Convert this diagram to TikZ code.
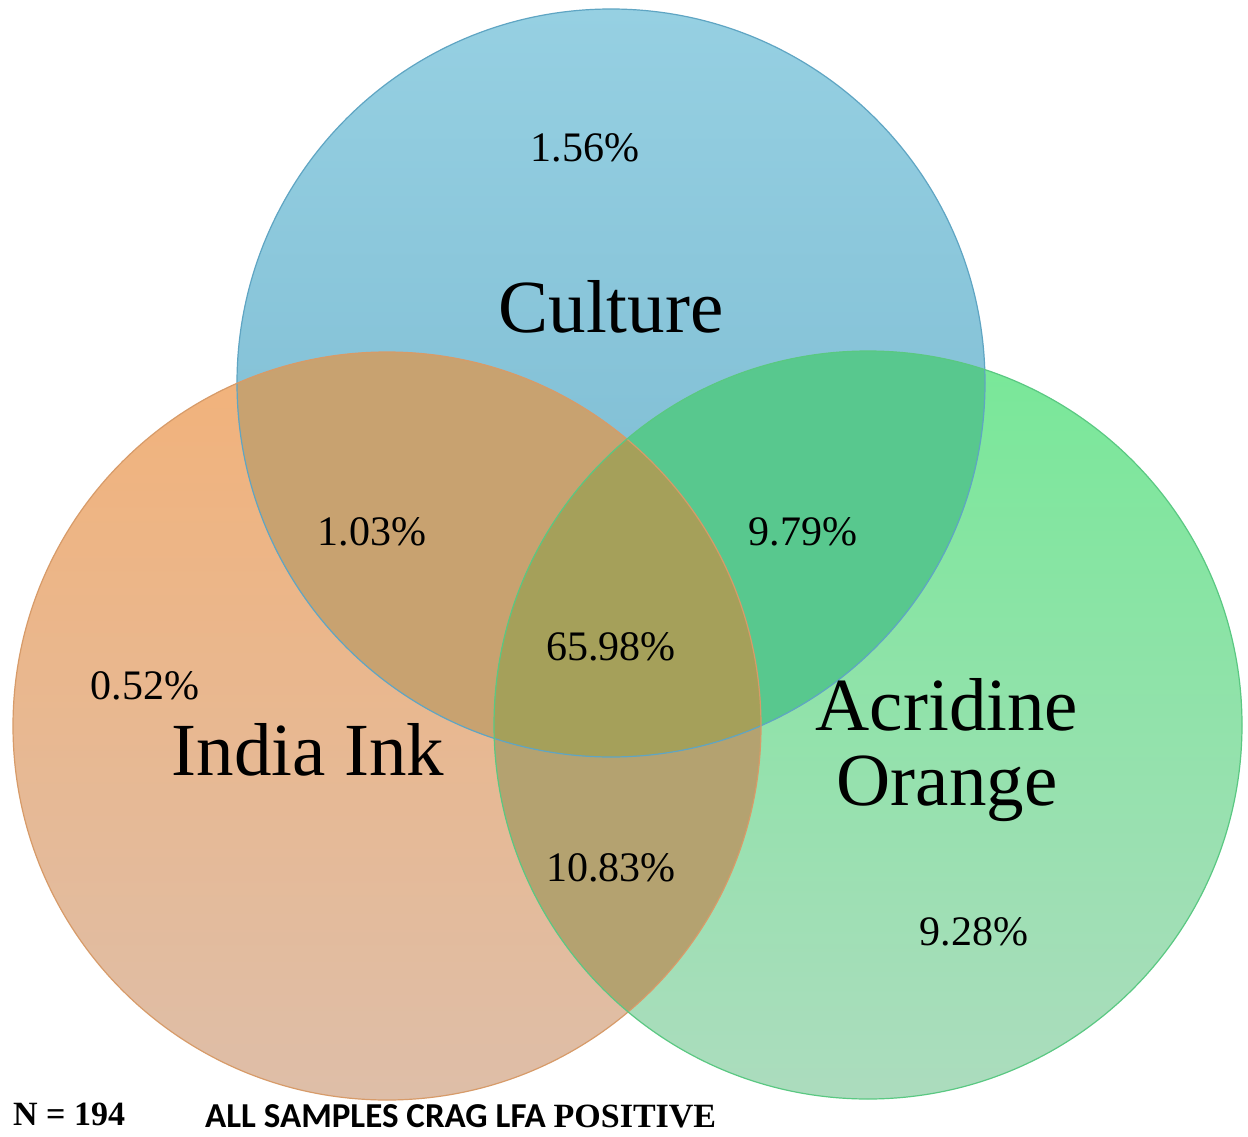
\documentclass[tikz,border=0pt]{standalone}
\usepackage{fontspec}
\setmainfont{Liberation Serif}[BoldFont={Liberation Serif Bold}]
\newfontfamily\carlito{Carlito}[BoldFont={Carlito Bold}]
\newfontfamily\timesbold{Liberation Serif Bold}
\begin{document}
\begin{tikzpicture}[x=1pt,y=-1pt,
  pct/.style={font=\fontsize{42}{42}\selectfont, text=black, inner sep=0pt},
  biglabel/.style={font=\fontsize{75}{75}\selectfont, text=black, inner sep=0pt, align=center}]
\definecolor{cultTop}{RGB}{150,208,226}
\definecolor{cultBot}{RGB}{118,182,206}
\definecolor{cultLine}{RGB}{95,165,195}
\definecolor{indTop}{RGB}{242,178,122}
\definecolor{indBot}{RGB}{222,190,168}
\definecolor{indLine}{RGB}{215,155,105}
\definecolor{grnTop}{RGB}{120,232,152}
\definecolor{grnBot}{RGB}{172,220,190}
\definecolor{grnLine}{RGB}{90,200,130}
\definecolor{ciCol}{RGB}{200,162,112}
\definecolor{cgCol}{RGB}{88,200,142}
\definecolor{igCol}{RGB}{180,162,112}
\definecolor{allCol}{RGB}{165,160,90}
\useasboundingbox (0,0) rectangle (1248,1137);
\fill[white] (0,0) rectangle (1248,1137);
\coordinate (C) at (611,383);
\coordinate (I) at (387,726);
\coordinate (G) at (868,725);
% base circles
\shade[top color=cultTop, bottom color=cultBot] (C) circle (374pt);
\shade[top color=indTop, bottom color=indBot] (I) circle (374pt);
\shade[top color=grnTop, bottom color=grnBot] (G) circle (374pt);
% pairwise overlaps
\begin{scope}\clip (C) circle (374pt); \fill[ciCol] (I) circle (374pt); \end{scope}
\begin{scope}\clip (C) circle (374pt); \fill[cgCol] (G) circle (374pt); \end{scope}
\begin{scope}\clip (I) circle (374pt); \fill[igCol] (G) circle (374pt); \end{scope}
\begin{scope}\clip (C) circle (374pt); \clip (I) circle (374pt); \fill[allCol] (G) circle (374pt); \end{scope}
% outlines
\draw[cultLine, line width=1.2pt] (C) circle (374pt);
\draw[indLine, line width=1.2pt] (I) circle (374pt);
\draw[grnLine, line width=1.2pt] (G) circle (374pt);
% percentages
\node[pct] (p1) at (585,148) {1.56\%};
\node[pct] (p2) at (372,532) {1.03\%};
\node[pct] (p3) at (803,532) {9.79\%};
\node[pct] (p4) at (611,647) {65.98\%};
\node[pct] (p5) at (145,686) {0.52\%};
\node[pct] (p6) at (611,868) {10.83\%};
\node[pct] (p7) at (974,932) {9.28\%};
% labels
\node[biglabel] (l1) at (611,307) {Culture};
\node[biglabel] (l2) at (308,750) {India Ink};
\node[biglabel] (l3) at (947,750) {Acridine\\Orange};
% bottom texts
\node[anchor=base west, inner sep=0pt, font=\timesbold\fontsize{34}{34}\selectfont] (n) at (13,1125) {N = 194};
\node[anchor=base west, inner sep=0pt] (t) at (205,1127) {{\carlito\bfseries\fontsize{35}{35}\selectfont ALL SAMPLES CRAG LFA }{\timesbold\fontsize{34}{34}\selectfont POSITIVE}};
\end{tikzpicture}
\end{document}
